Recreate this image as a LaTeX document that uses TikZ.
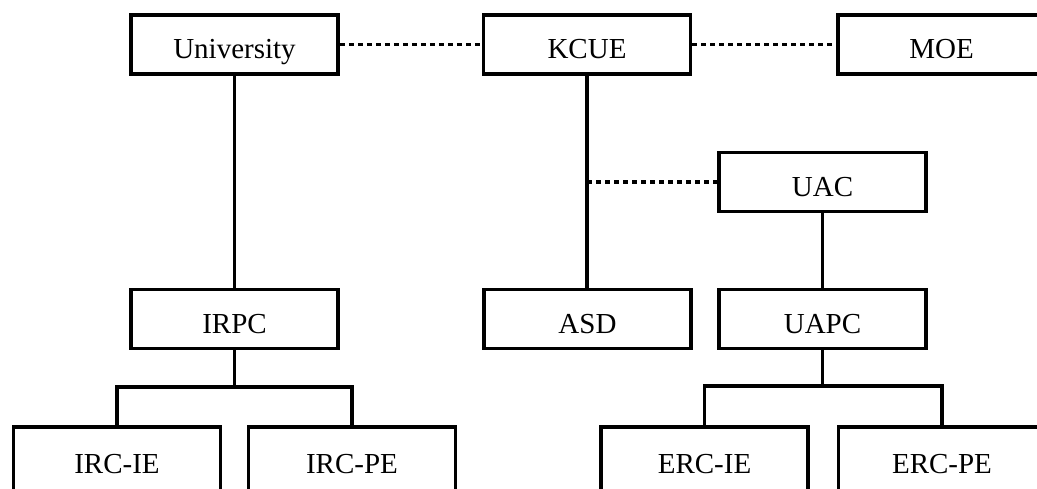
\documentclass[tikz,border=0pt]{standalone}
\usepackage{fontspec}
\setmainfont{Liberation Serif}
\begin{document}
\begin{tikzpicture}[x=1pt,y=-1pt,
  box/.style={draw=black,line width=3.6pt,fill=white,minimum width=207pt,minimum height=59pt,
    inner sep=0pt,text height=28pt,text depth=0pt,font=\fontsize{29}{34}\selectfont},
  lowbox/.style={box,minimum height=70pt,text height=22pt},
  solidln/.style={line width=3.6pt},
  dotln/.style={line width=3.6pt,dash pattern=on 5pt off 4pt}]
\useasboundingbox (0,0) rectangle (1037,488);
\clip (0,0) rectangle (1037,488);
\node[box] (uni) at (234.5,44.5) {University};
\node[box] (kcue) at (587,44.5) {KCUE};
\node[box] (moe) at (941.5,44.5) {MOE};
\node[box] (uac) at (822.5,182) {UAC};
\node[box] (irpc) at (234.5,319) {IRPC};
\node[box] (asd) at (587.5,319) {ASD};
\node[box] (uapc) at (822.5,319) {UAPC};
\node[lowbox] (ircie) at (117,462) {IRC-IE};
\node[lowbox] (ircpe) at (352,462) {IRC-PE};
\node[lowbox] (ercie) at (704.5,462) {ERC-IE};
\node[lowbox] (ercpe) at (942,462) {ERC-PE};
\coordinate (kj) at (kcue.south |- uac.west);
\draw[dotln] (uni.east) -- (kcue.west);
\draw[dotln] (kcue.east) -- (moe.west);
\draw[dotln] (kj) -- (uac.west);
\draw[solidln] (uni.south) -- (irpc.north);
\draw[solidln] (kcue.south) -- (kcue.south |- asd.north);
\draw[solidln] (uac.south) -- (uapc.north);
\draw[solidln] (irpc.south) -- ++(0,36.5) -| (ircie.north);
\draw[solidln] (irpc.south) ++(0,36.5) -| (ircpe.north);
\draw[solidln] (uapc.south) -- ++(0,35.5) -| (ercie.north);
\draw[solidln] (uapc.south) ++(0,35.5) -| (ercpe.north);
\end{tikzpicture}
\end{document}
